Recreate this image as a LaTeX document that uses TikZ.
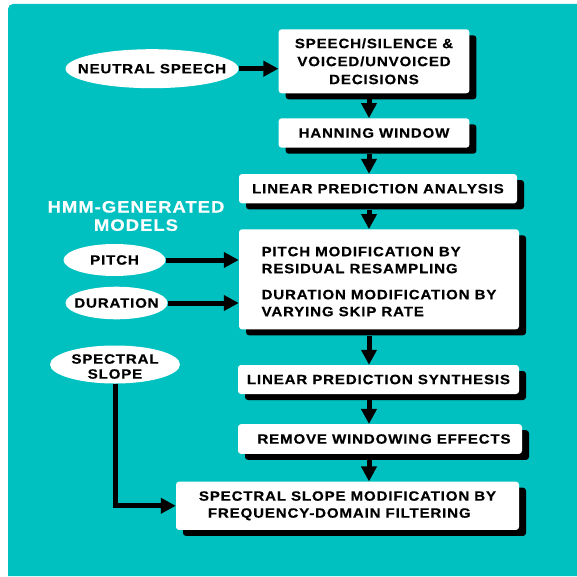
\documentclass[tikz,border=0pt]{standalone}
\usepackage{fontspec}
\setmainfont{Liberation Sans}[FakeStretch=1.12,LetterSpace=6,BoldFeatures={FakeBold=0.4}]
\usetikzlibrary{arrows.meta,shapes.geometric,shadows,calc}
\definecolor{bgteal}{RGB}{0,192,192}
\begin{document}
\begin{tikzpicture}[x=1pt,y=-1pt,
  font=\bfseries\fontsize{13.5}{17}\selectfont,
  box/.style={fill=white,rounded corners=3pt,inner sep=0pt,align=center,
     drop shadow={shadow xshift=7pt,shadow yshift=-6pt,fill=black,opacity=1}},
  ell/.style={ellipse,fill=white,inner sep=0pt},
  arr/.style={line width=5pt,-{Triangle[width=15pt,length=15pt]}},
]
\useasboundingbox (0,0) rectangle (577,577);
\fill[bgteal] (577,576) -- (8,576) [rounded corners=5pt] -- (8,4) [sharp corners] -- (577,4) -- cycle;
\coordinate (spine) at (369,0);

% boxes
\node[box,minimum width=190.7pt,minimum height=64pt] (b1) at (374,61.3)
  {SPEECH/SILENCE \&\\[1pt]VOICED/UNVOICED\\[1pt]DECISIONS};
\node[box,minimum width=190.7pt,minimum height=29.4pt] (b2) at (374,133) {HANNING WINDOW};
\node[box,minimum width=278pt,minimum height=29.3pt] (b3) at (378,188.7) {LINEAR PREDICTION ANALYSIS};
\node[box,minimum width=280pt,minimum height=100pt,align=left] (b4) at (379,279.3)
  {\rule{0pt}{14pt}PITCH MODIFICATION BY\\RESIDUAL RESAMPLING\\[9pt]DURATION MODIFICATION BY\\VARYING SKIP RATE};
\node[box,minimum width=281pt,minimum height=29pt] (b5) at (378.5,379.5) {LINEAR PREDICTION SYNTHESIS};
\node[box,minimum width=284pt,minimum height=29.7pt] (b6) at (380,439) {\hspace{8pt}REMOVE WINDOWING EFFECTS};
\node[box,minimum width=343pt,minimum height=48.3pt,align=left] (b7) at (347.5,505.8)
  {SPECTRAL SLOPE MODIFICATION BY\\\hspace{9pt}FREQUENCY-DOMAIN FILTERING};

% ellipses
\node[ell,minimum width=173pt,minimum height=39pt,label={center:NEUTRAL SPEECH}] (e1) at (152,68.7) {};
\node[ell,minimum width=102pt,minimum height=32pt,label={center:PITCH}] (e2) at (114.5,260) {};
\node[ell,minimum width=102pt,minimum height=32.6pt,label={center:DURATION}] (e3) at (116.5,303) {};
\node[ell,minimum width=130pt,minimum height=38pt,
  label={[align=center,font=\bfseries\fontsize{13.5}{15}\selectfont,yshift=-2pt]center:SPECTRAL\\SLOPE}] (e4) at (115,364.5) {};

\node[text=white,font=\bfseries\fontsize{16.5}{18.3}\selectfont,align=center] (hmm) at (136,216) {HMM-GENERATED\\MODELS};

% connectors
\draw[arr] (e1.east) -- (e1.east -| b1.west);
\draw[arr] (e2.east) -- (e2.east -| b4.west);
\draw[arr] (e3.east) -- (e3.east -| b4.west);
\draw[arr] (e4.south) |- (b7.west);
\draw[arr] ($(b1.south -| spine)+(0,6)$) -- (b2.north -| spine);
\draw[arr] ($(b2.south -| spine)+(0,6)$) -- (b3.north -| spine);
\draw[arr] ($(b3.south -| spine)+(0,6)$) -- (b4.north -| spine);
\draw[arr] ($(b4.south -| spine)+(0,6)$) -- (b5.north -| spine);
\draw[arr] ($(b5.south -| spine)+(0,6)$) -- (b6.north -| spine);
\draw[arr] ($(b6.south -| spine)+(0,6)$) -- (b7.north -| spine);
\end{tikzpicture}
\end{document}
